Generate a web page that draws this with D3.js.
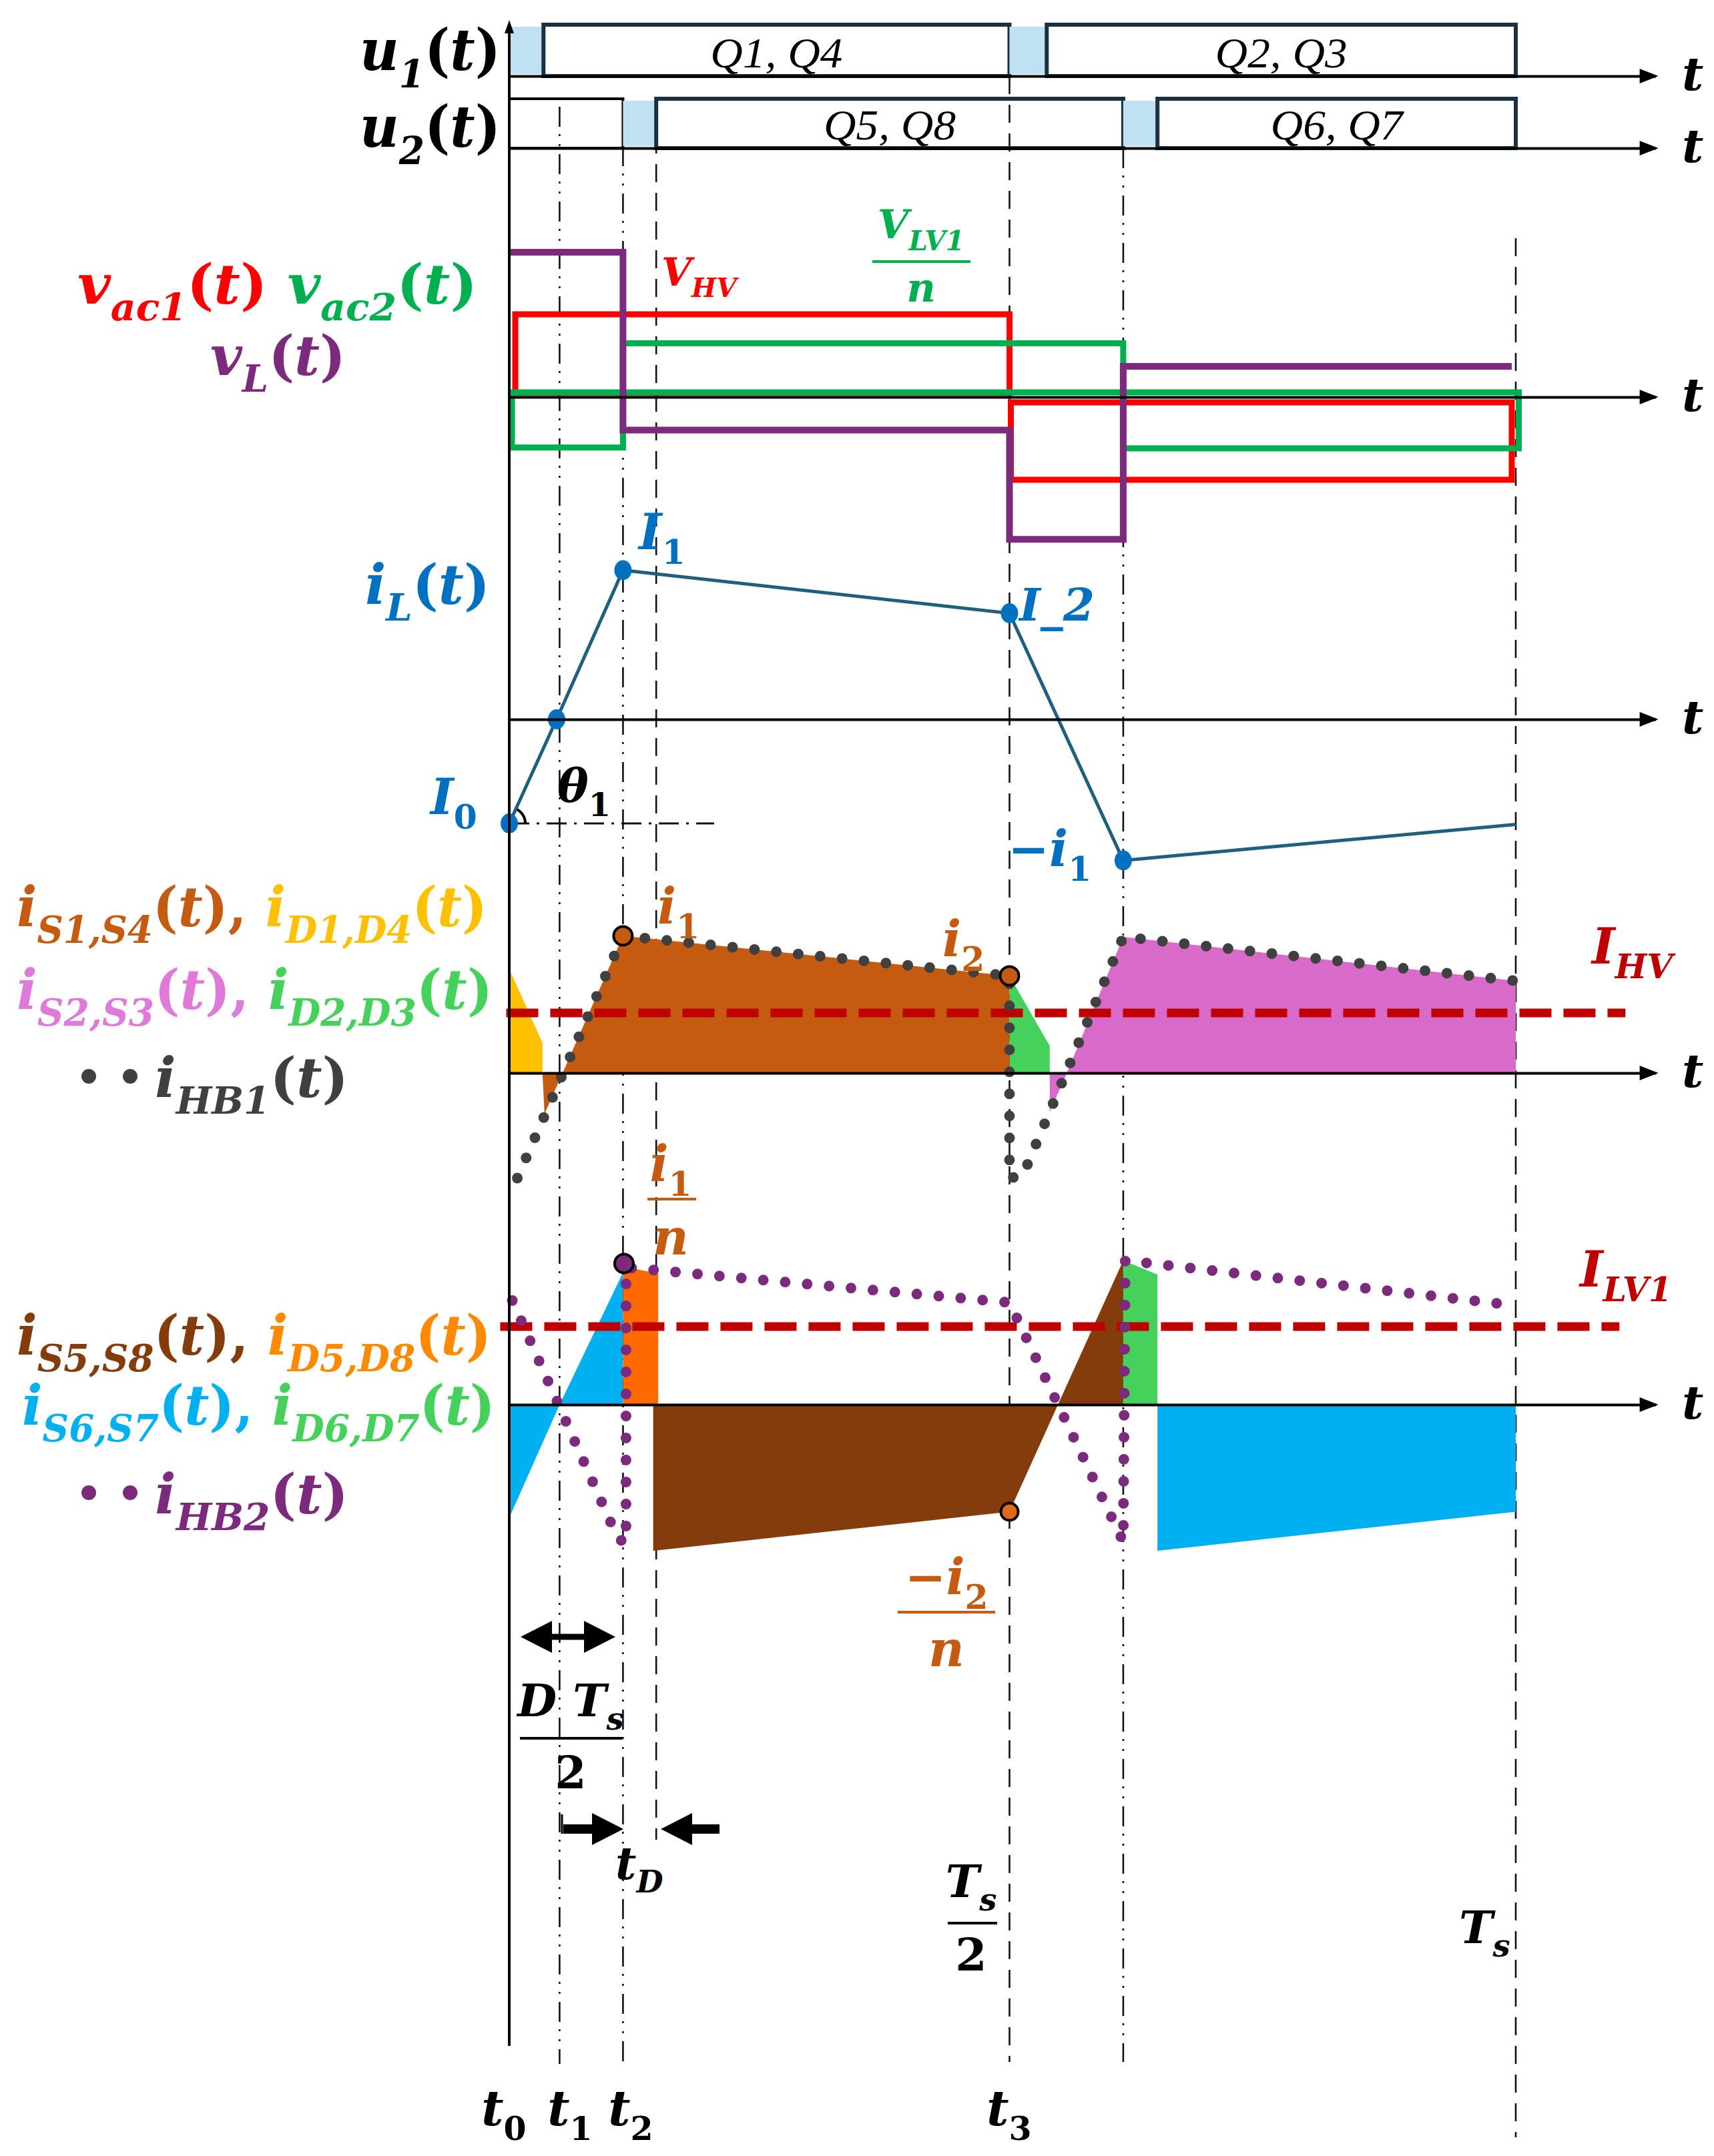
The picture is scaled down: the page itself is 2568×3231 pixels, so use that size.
<!DOCTYPE html>
<html><head><meta charset="utf-8">
<script src="https://cdn.jsdelivr.net/npm/d3@7/dist/d3.min.js"></script>
<style>html,body{margin:0;padding:0;background:#fff}svg{display:block}</style>
</head><body>
<svg id="c" width="2568" height="3231"></svg>
<script>
// ---------------- DATA (time in fractions of Ts, amplitudes in per-unit) ----------------
const instants = {t0:0, t1:0.050, t2:0.113, t2d:0.146, t3:0.497, t4:0.610, t4d:0.644, Ts:1};

// gate signals: [from, to, kind, label]
const u1Blocks = [[0,0.034,'dead',''],[0.034,0.497,'on','Q1, Q4'],[0.497,0.534,'dead',''],[0.534,1,'on','Q2, Q3']];
const u2Blocks = [[0,0.113,'prev',''],[0.113,0.146,'dead',''],[0.146,0.610,'on','Q5, Q8'],[0.610,0.644,'dead',''],[0.644,1,'on','Q6, Q7']];

// bridge voltages: [from, to, level]
const vac1Segments = [[0,0.497,1.0],[0.497,0.996,-1.0]];
const vac2Segments = [[0,0.113,-0.61],[0.113,0.610,0.65],[0.610,1.003,-0.62]];
const vLTimes  = [0, 0.113, 0.497, 0.610, 0.996];
const vLValues = [1.75, -0.40, -1.72, 0.37, 0.37];

// inductor current
const iLTimes  = [0, 0.047, 0.113, 0.497, 0.610, 1];
const iLValues = [-1.04, 0, 1.49, 1.06, -1.41, -1.05];

// HV side currents: polygons of [t, value]
const iD14Area  = [[0,1.04],[0.033,0.30],[0.033,0],[0,0]];
const iS14Areas = [[[0.033,0],[0.035,-0.41],[0.053,0]], [[0.053,0],[0.113,1.37],[0.497,0.97],[0.497,0]]];
const iD23Area  = [[0.497,0.97],[0.537,0.27],[0.537,0],[0.497,0]];
const iS23Areas = [[[0.537,0],[0.537,-0.39],[0.554,0]], [[0.554,0],[0.610,1.36],[1.0,0.92],[1.0,0]]];
const iHB1Path  = [[0.008,-1.05],[0.113,1.37],[0.497,0.97],[0.497,-1.05],[0.510,-1.03],[0.610,1.36],[1.0,0.92]];
const iHB1Marks = [[0.113,1.37],[0.497,0.97]];
const IHV = 0.60;

// LV side currents
const iS67Areas = [[[0,0],[0,-1.13],[0.050,0]], [[0.050,0],[0.113,1.32],[0.113,0]], [[0.644,0],[0.644,-1.46],[1.0,-1.07],[1.0,0]]];
const iD58Area  = [[0.113,1.38],[0.148,1.31],[0.148,0],[0.113,0]];
const iS58Area  = [[0.143,0],[0.143,-1.46],[0.497,-1.07],[0.610,1.44],[0.610,0]];
const iD67Area  = [[0.610,1.44],[0.644,1.30],[0.644,0],[0.610,0]];
const iHB2Path  = [[0.003,1.04],[0.108,-1.34],[0.116,-1.38],[0.116,1.37],[0.497,1.02],[0.610,-1.37],[0.612,1.44],[1.0,0.99]];
const iHB2Marks = [[0.114,1.41],[0.497,-1.07]];
const ILV1 = 0.78;

// ---------------- DRAWING ----------------
const svg = d3.select('#c');
const x = d3.scaleLinear().domain([0, 1]).range([763, 2271]);
const xAxisEnd = 1.139;
const MATH = "'DejaVu Serif', 'Liberation Serif', serif";
const COL = {
  red:'#ff0000', green:'#00b050', purple:'#7b2a7c', ilLine:'#1f5f80', blue:'#0070c0',
  s14:'#c55a11', d14:'#ffc000', s23:'#d86bc9', s23t:'#e07ad8', d23:'#45d15b', hb1:'#404040',
  s58:'#843c0c', d58:'#ff6a00', d58t:'#ff8a00', s67:'#00b0f0', hb2:'#7b2a7c', ref:'#c00000',
  gateStroke:'#1b3040', gateFill:'#bfe1f3'
};

const panels = {
  u1:   d3.scaleLinear().domain([0,1]).range([114, 37]),
  u2:   d3.scaleLinear().domain([0,1]).range([222, 148]),
  volt: d3.scaleLinear().domain([-1,1]).range([595+124, 595-124]),
  iL:   d3.scaleLinear().domain([-1,1]).range([1078+150, 1078-150]),
  hb1:  d3.scaleLinear().domain([-1,1]).range([1608+150, 1608-150]),
  hb2:  d3.scaleLinear().domain([-1,1]).range([2105+150, 2105-150])
};

// ---- vertical guide lines
const DASHDOT = '30,11,3,12,3,12';
const DASHED = '27,16';
const guides = [
  ['t1', DASHDOT, 160, 3093], ['t2', DASHDOT, 148, 3093], ['t2d', DASHED, 160, 2757],
  ['t3', DASHED, 114, 3090], ['t4', DASHDOT, 222, 3090], ['Ts', DASHED, 357, 3203]
];
const gGuides = svg.append('g');
guides.forEach(([k, dash, y0, y1]) => {
  gGuides.append('line').attr('x1', x(instants[k])).attr('x2', x(instants[k]))
    .attr('y1', y0).attr('y2', y1).attr('stroke', '#111').attr('stroke-width', 2.6)
    .attr('stroke-dasharray', dash);
});

// ---- gate rows
function gateRow(blocks, ys) {
  const g = svg.append('g');
  blocks.forEach(([a, b, kind, lab]) => {
    const x0 = x(a), x1 = x(b);
    if (kind === 'dead') {
      g.append('rect').attr('x', x0).attr('y', ys(1) + 3).attr('width', x1 - x0).attr('height', ys(0) - ys(1) - 6)
        .attr('fill', COL.gateFill);
    } else {
      g.append('rect').attr('x', x0).attr('y', ys(1)).attr('width', x1 - x0).attr('height', ys(0) - ys(1))
        .attr('fill', 'none').attr('stroke', kind === 'prev' ? '#000' : COL.gateStroke)
        .attr('stroke-width', kind === 'prev' ? 4 : 6);
      if (lab) {
        g.append('text').attr('x', (x0 + x1) / 2).attr('y', ys(0) - 13)
          .attr('text-anchor', 'middle').attr('font-family', "'Liberation Serif',serif")
          .attr('font-style', 'italic').attr('font-size', 64)
          .attr('textLength', 198).attr('lengthAdjust', 'spacingAndGlyphs').text(lab);
      }
    }
  });
}
gateRow(u1Blocks, panels.u1);
gateRow(u2Blocks, panels.u2);

// ---- horizontal time axes
const axisScale = d3.scaleLinear().domain([0, xAxisEnd]).range([x(0), x(xAxisEnd)]);
function timeAxis(yPix) {
  const g = svg.append('g').attr('transform', `translate(0,${yPix})`)
    .call(d3.axisBottom(axisScale).tickValues([]).tickSizeOuter(0));
  g.select('.domain').attr('stroke', '#000').attr('stroke-width', 4);
  const xe = axisScale(xAxisEnd);
  g.append('path').attr('d', `M${xe - 24},-11 L${xe + 4},0 L${xe - 24},11 Z`).attr('fill', '#000');
  g.append('text').attr('x', 2520).attr('y', 21).attr('text-anchor', 'start').attr('fill', '#000')
    .attr('font-family', MATH).attr('font-weight', 'bold')
    .attr('font-style', 'italic').attr('font-size', 70).text('t');
}

// ---- voltage panel
const vy = panels.volt;
const gV = svg.append('g');
vac1Segments.forEach(([a, b, v]) => {
  const yLev = vy(v), yBase = v > 0 ? vy(0) - 6 : vy(0) + 8;
  gV.append('rect').attr('x', x(a) + (a === 0 ? 9 : 2)).attr('width', x(b) - x(a) - (a === 0 ? 9 : 2))
    .attr('y', Math.min(yLev, yBase)).attr('height', Math.abs(yBase - yLev))
    .attr('fill', 'none').attr('stroke', COL.red).attr('stroke-width', 9);
});
vac2Segments.forEach(([a, b, v]) => {
  const yLev = vy(v), yBase = vy(0) - 7;
  gV.append('rect').attr('x', x(a) + (a === 0 ? 4 : 0)).attr('width', x(b) - x(a) - (a === 0 ? 4 : 0))
    .attr('y', Math.min(yLev, yBase)).attr('height', Math.abs(yBase - yLev))
    .attr('fill', 'none').attr('stroke', COL.green).attr('stroke-width', 9);
});
gV.append('path').datum(d3.zip(vLTimes, vLValues))
  .attr('d', d3.line().x(d => x(d[0])).y(d => vy(d[1])).curve(d3.curveStepAfter))
  .attr('fill', 'none').attr('stroke', COL.purple).attr('stroke-width', 10);

// ---- iL panel
const iy = panels.iL;
const gI = svg.append('g');
gI.append('line').attr('x1', x(0)).attr('x2', 1070).attr('y1', iy(iLValues[0])).attr('y2', iy(iLValues[0]))
  .attr('stroke', '#111').attr('stroke-width', 3).attr('stroke-dasharray', '30,11,4,11');
const ang = Math.atan2(iy(iLValues[0]) - iy(iLValues[2]), x(iLTimes[2]) - x(iLTimes[0]));
gI.append('path').attr('transform', `translate(${x(0)},${iy(iLValues[0])})`)
  .attr('d', d3.arc().innerRadius(22).outerRadius(26).startAngle(Math.PI / 2 - ang).endAngle(Math.PI / 2))
  .attr('fill', '#000');
gI.append('path').datum(d3.zip(iLTimes, iLValues))
  .attr('d', d3.line().x(d => x(d[0])).y(d => iy(d[1])))
  .attr('fill', 'none').attr('stroke', COL.ilLine).attr('stroke-width', 5);
gI.selectAll('ellipse').data(d3.zip(iLTimes, iLValues).slice(0, 5)).join('ellipse')
  .attr('cx', d => x(d[0])).attr('cy', d => iy(d[1])).attr('rx', 13).attr('ry', 15).attr('fill', COL.blue);

// ---- area helpers
function areas(g, ys, polys, fill) {
  polys.forEach(p => g.append('path').datum(p)
    .attr('d', d3.line().x(d => x(d[0])).y(d => ys(d[1])).curve(d3.curveLinearClosed))
    .attr('fill', fill).attr('stroke', 'none'));
}
function dotted(g, ys, pts, color) {
  g.append('path').datum(pts).attr('d', d3.line().x(d => x(d[0])).y(d => ys(d[1])))
    .attr('fill', 'none').attr('stroke', color).attr('stroke-width', 16)
    .attr('stroke-linecap', 'round').attr('stroke-dasharray', '0,33');
}
function refLine(g, ys, v, x0, x1) {
  g.append('line').attr('x1', x(x0)).attr('x2', x(x1)).attr('y1', ys(v)).attr('y2', ys(v))
    .attr('stroke', COL.ref).attr('stroke-width', 13).attr('stroke-dasharray', '48,18');
}

// ---- HV currents panel
const h1 = panels.hb1;
const gH1 = svg.append('g');
areas(gH1, h1, [iD14Area], COL.d14);
areas(gH1, h1, iS14Areas, COL.s14);
areas(gH1, h1, [iD23Area], COL.d23);
areas(gH1, h1, iS23Areas, COL.s23);

// ---- LV currents panel
const h2 = panels.hb2;
const gH2 = svg.append('g');
areas(gH2, h2, iS67Areas, COL.s67);
areas(gH2, h2, [iS58Area], COL.s58);
areas(gH2, h2, [iD58Area], COL.d58);
areas(gH2, h2, [iD67Area], COL.d23);

// axes
[panels.u1(0), panels.u2(0), panels.volt(0), panels.iL(0), panels.hb1(0), panels.hb2(0)].forEach(timeAxis);

// main vertical axis
svg.append('line').attr('x1', x(0)).attr('x2', x(0)).attr('y1', 40).attr('y2', 3066)
  .attr('stroke', '#000').attr('stroke-width', 4);
svg.append('path').attr('d', `M${x(0) - 7},50 L${x(0)},30 L${x(0) + 7},50 Z`).attr('fill', '#000');

// reference levels and dotted half-bridge currents (on top)
refLine(gH1, h1, IHV, -0.003, 1.109);
dotted(gH1, h1, iHB1Path, COL.hb1);
gH1.selectAll('circle.m').data(iHB1Marks).join('circle').attr('class', 'm')
  .attr('cx', d => x(d[0])).attr('cy', d => h1(d[1])).attr('r', 14)
  .attr('fill', COL.s14).attr('stroke', '#000').attr('stroke-width', 4);

refLine(gH2, h2, ILV1, -0.009, 1.103);
dotted(gH2, h2, iHB2Path, COL.hb2);
gH2.append('circle').attr('cx', x(iHB2Marks[0][0])).attr('cy', h2(iHB2Marks[0][1])).attr('r', 14)
  .attr('fill', COL.hb2).attr('stroke', '#000').attr('stroke-width', 4);
gH2.append('circle').attr('cx', x(iHB2Marks[1][0])).attr('cy', h2(iHB2Marks[1][1])).attr('r', 13)
  .attr('fill', '#e06a1a').attr('stroke', '#000').attr('stroke-width', 4);

// ---------------- TEXT ----------------
function mtext(x0, y0, parts, size, anchor, width) {
  const t = svg.append('text').attr('x', x0).attr('y', y0).attr('font-family', MATH)
    .attr('font-weight', 'bold').attr('font-style', 'italic').attr('font-size', size)
    .attr('text-anchor', anchor || 'start');
  let shift = 0;
  parts.forEach(p => {
    const target = p.sub ? size * 0.30 : 0;
    const ts = t.append('tspan').attr('dy', target - shift).attr('fill', p.c || '#000').text(p.s);
    if (p.sub) ts.attr('font-size', size * 0.68);
    if (p.n) ts.attr('font-style', 'normal');
    shift = target;
  });
  if (width) t.attr('textLength', width).attr('lengthAdjust', 'spacingAndGlyphs');
  return t;
}
function fn(name, sub, color) { // f_sub(t)
  return [{s:name, c:color}, {s:sub, sub:1, c:color}, {s:'(', n:1, c:color}, {s:'t', c:color}, {s:')', n:1, c:color}];
}
function frac(cx, numParts, denParts, yNum, yLine, yDen, size, color, x0, x1) {
  mtext(cx, yNum, numParts, size, 'middle');
  svg.append('line').attr('x1', x0).attr('x2', x1).attr('y1', yLine).attr('y2', yLine)
    .attr('stroke', color).attr('stroke-width', 4);
  mtext(cx, yDen, denParts, size, 'middle');
}

const LS = 82;
// gate labels
mtext(539, 105, fn('u', '1', '#000'), 86, 'start', 211);
mtext(539, 220, fn('u', '2', '#000'), 86, 'start', 211);

// voltage labels
mtext(116, 455, [...fn('v','ac1',COL.red), {s:' ', c:COL.red}, ...fn('v','ac2',COL.green)], LS, 'start', 599);
mtext(315, 562, fn('v', 'L', COL.purple), LS, 'start', 203);
mtext(991, 428, [{s:'V',c:COL.red},{s:'HV',sub:1,c:COL.red}], 58);
frac(1380, [{s:'V',c:COL.green},{s:'LV1',sub:1,c:COL.green}], [{s:'n',c:COL.green}], 357, 392, 452, 60, COL.green, 1307, 1454);

// iL labels
mtext(547, 905, fn('i', 'L', COL.blue), LS, 'start', 187);
mtext(957, 823, [{s:'I',c:COL.blue},{s:'1',sub:1,n:1,c:COL.blue}], 74);
mtext(1527, 930, [{s:'I_2',c:COL.blue}], 68);
mtext(645, 1220, [{s:'I',c:COL.blue},{s:'0',sub:1,n:1,c:COL.blue}], 74);
mtext(835, 1202, [{s:'θ'},{s:'1',sub:1,n:1}], 70);
mtext(1510, 1298, [{s:'−',n:1,c:COL.blue},{s:'i',c:COL.blue},{s:'1',sub:1,n:1,c:COL.blue}], 74);

// HV current labels
mtext(25, 1388, [...fn('i','S1,S4',COL.s14), {s:', ',n:1,c:COL.s14}, ...fn('i','D1,D4',COL.d14)], LS, 'start', 705);
mtext(25, 1512, [...fn('i','S2,S3',COL.s23t), {s:', ',n:1,c:COL.s23t}, ...fn('i','D2,D3',COL.d23)], LS, 'start', 713);
[133, 195].forEach(cx => svg.append('circle').attr('cx', cx).attr('cy', 1613).attr('r', 11).attr('fill', COL.hb1));
mtext(232, 1644, fn('i', 'HB1', COL.hb1), LS, 'start', 290);
mtext(985, 1384, [{s:'i',c:COL.s14},{s:'1',sub:1,n:1,c:COL.s14}], 74);
mtext(1412, 1433, [{s:'i',c:COL.s14},{s:'2',sub:1,n:1,c:COL.s14}], 74);
mtext(2385, 1444, [{s:'I',c:COL.ref},{s:'HV',sub:1,c:COL.ref}], 74);

// LV current labels
mtext(25, 2030, [...fn('i','S5,S8',COL.s58), {s:', ',n:1,c:COL.s58}, ...fn('i','D5,D8',COL.d58t)], LS, 'start', 711);
mtext(33, 2135, [...fn('i','S6,S7',COL.s67), {s:', ',n:1,c:COL.s67}, ...fn('i','D6,D7',COL.d23)], LS, 'start', 709);
[133, 195].forEach(cx => svg.append('circle').attr('cx', cx).attr('cy', 2237).attr('r', 11).attr('fill', COL.hb2));
mtext(232, 2268, fn('i', 'HB2', COL.hb2), LS, 'start', 290);
frac(1005, [{s:'i',c:COL.s14},{s:'1',sub:1,n:1,c:COL.s14}], [{s:'n',c:COL.s14}], 1770, 1797, 1880, 74, COL.s14, 970, 1043);
mtext(2367, 1928, [{s:'I',c:COL.ref},{s:'LV1',sub:1,c:COL.ref}], 74);
frac(1418, [{s:'−',n:1,c:COL.s14},{s:'i',c:COL.s14},{s:'2',sub:1,n:1,c:COL.s14}], [{s:'n',c:COL.s14}], 2389, 2416, 2497, 74, COL.s14, 1345, 1491);

// ---- timing annotations
const gA = svg.append('g');
function arrowHead(tipX, y, dir) { // dir: +1 pointing right, -1 left
  return `M${tipX},${y} L${tipX - dir * 47},${y - 24} L${tipX - dir * 47},${y + 24} Z`;
}
gA.append('line').attr('x1', 800).attr('x2', 900).attr('y1', 2453).attr('y2', 2453).attr('stroke', '#000').attr('stroke-width', 9);
gA.append('path').attr('d', arrowHead(780, 2453, -1) + arrowHead(922, 2453, 1)).attr('fill', '#000');
frac(855, [{s:'D'},{s:' '},{s:'T'},{s:'s',sub:1}], [{s:'2',n:1}], 2572, 2605, 2680, 68, '#000', 779, 933);
gA.append('line').attr('x1', 844).attr('x2', 900).attr('y1', 2741).attr('y2', 2741).attr('stroke', '#000').attr('stroke-width', 14);
gA.append('line').attr('x1', 842).attr('x2', 842).attr('y1', 2719).attr('y2', 2748).attr('stroke', '#000').attr('stroke-width', 3);
gA.append('path').attr('d', arrowHead(934, 2741, 1)).attr('fill', '#000');
gA.append('line').attr('x1', 1020).attr('x2', 1078).attr('y1', 2741).attr('y2', 2741).attr('stroke', '#000').attr('stroke-width', 14);
gA.append('path').attr('d', arrowHead(990, 2741, -1)).attr('fill', '#000');
mtext(922, 2816, [{s:'t'},{s:'D',sub:1}], 68);
frac(1455, [{s:'T'},{s:'s',sub:1}], [{s:'2',n:1}], 2843, 2882, 2953, 68, '#000', 1420, 1494);
mtext(2186, 2912, [{s:'T'},{s:'s',sub:1}], 68);

// bottom instants
[['0', 755], ['1', 854], ['2', 945], ['3', 1512]].forEach(([s, cx]) =>
  mtext(cx, 3185, [{s:'t'},{s:s,sub:1,n:1}], 72, 'middle'));
</script>
</body></html>
